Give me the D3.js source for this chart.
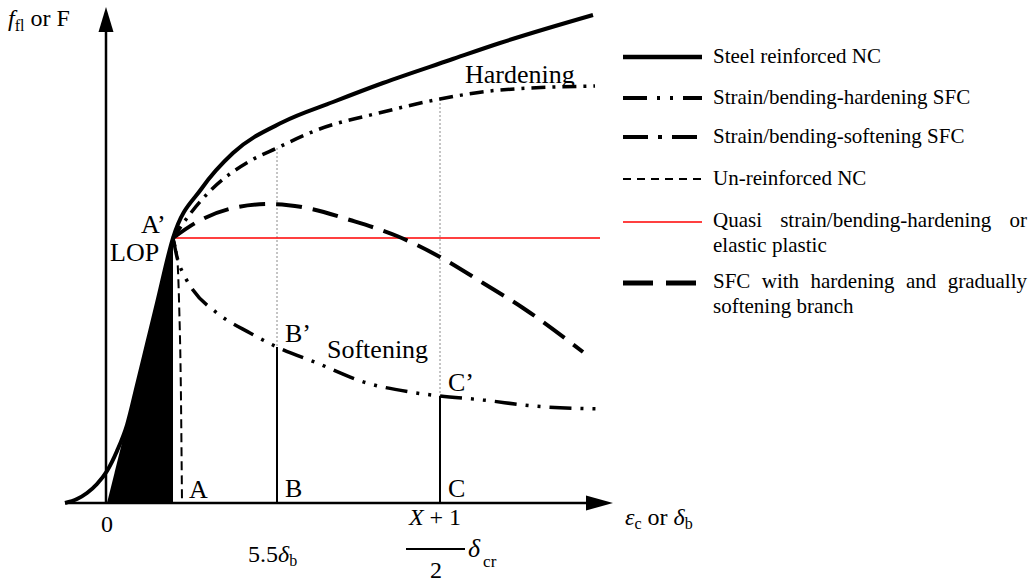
<!DOCTYPE html>
<html>
<head>
<meta charset="utf-8">
<script src="https://cdn.jsdelivr.net/npm/d3@7"></script>
<style>
  body { margin: 0; background: #fff; }
  svg { display: block; }
  svg text { font-family: "Liberation Serif", "Times New Roman", Times, serif; fill: #000; }
</style>
</head>
<body>
<svg id="chart" width="1030" height="582"></svg>
<script>
// curve points (x: strain / deflection units, y: load units)
var steelNC = [[-8.4,0],[-6,0.8],[-4,2],[-2,3.8],[0,6.4],[2,10.4],[4,15.6],[6,23.6],[8,31.8],[10,40],[13.2,53],
  [19,63],[25.2,70],[35.2,76.2],[45.2,80.2],[55.2,84],[68.6,88.6],[78.6,92],[97.2,97.6]]
var hardeningSFC = [[13.2,53],[16.6,57.8],[20.6,62.4],[28.6,68.4],[34,71],[42,74.6],[55.2,78.2],[66.6,80.8],[78.6,82.6],[97.6,83.4]]
var softeningSFC = [[13.2,53],[14,49.2],[15.6,45.2],[17.2,42.6],[22,38],[28.6,34],[34,31.2],[42,28],[52,24],[60.6,22.2],
  [66.6,21.4],[75.2,20.6],[85.2,19.4],[99.2,18.8]]
var gradualSFC = [[13.2,53],[18,56.2],[25.2,59],[32.6,59.8],[40,59],[48.6,56.6],[58,53.4],[66.6,49.2],[75.2,44],[83.2,39],[95.2,30.2]]
var plainNC = [[13.2,53],[14,49.6],[14.4,40.6],[14.8,20.6],[15,0]]
var elasticPart = [[0,0],[13.2,53],[13.2,0]]
var lop = [13.2, 53]
var quasiEnd = 98.6
var markerX = [34, 66.6]
var markerNames = ["B", "C"]
var axisX = [-8.4, 101.2]
var axisY = [0, 99.2]

var legendNames = [
  ["Steel reinforced NC"],
  ["Strain/bending-hardening SFC"],
  ["Strain/bending-softening SFC"],
  ["Un-reinforced NC"],
  ["Quasi strain/bending-hardening or", "elastic plastic"],
  ["SFC with hardening and gradually", "softening branch"]
]

var serif = "'Liberation Serif', 'Times New Roman', Times, serif"
var svg = d3.select("#chart")
var x = d3.scaleLinear().domain([0, 100]).range([107, 607])
var y = d3.scaleLinear().domain([0, 100]).range([503, 3])

var line = d3.line().x(function(d){ return x(d[0]) }).y(function(d){ return y(d[1]) }).curve(d3.curveMonotoneX)

// elastic (black) triangle
svg.append("path")
  .attr("d", d3.line().x(function(d){ return x(d[0]) }).y(function(d){ return y(d[1]) })(elasticPart) + "Z")
  .attr("fill", "#000")

// gray guide lines between the SFC curves
function valueAt(series, xv){
  var p = series.find(function(d){ return d[0] == xv })
  return p[1]
}
markerX.forEach(function(mx){
  svg.append("line")
    .attr("x1", x(mx)).attr("x2", x(mx))
    .attr("y1", y(valueAt(hardeningSFC, mx))).attr("y2", y(valueAt(softeningSFC, mx)))
    .attr("stroke", "#8a8a8a").attr("stroke-width", 1).attr("stroke-dasharray", "2,2")
  svg.append("line")
    .attr("x1", x(mx)).attr("x2", x(mx))
    .attr("y1", y(valueAt(softeningSFC, mx))).attr("y2", y(0))
    .attr("stroke", "#000").attr("stroke-width", 2)
})

// quasi hardening / elastic plastic
svg.append("line")
  .attr("x1", x(lop[0])).attr("x2", x(quasiEnd))
  .attr("y1", y(lop[1])).attr("y2", y(lop[1]))
  .attr("stroke", "#f00").attr("stroke-width", 1.5)

var curves = [
  {data: steelNC, w: 4, dash: null},
  {data: hardeningSFC, w: 3.5, dash: "14,7,3,7"},
  {data: softeningSFC, w: 3.5, dash: "22,9,3,9,3,9"},
  {data: plainNC, w: 2, dash: "9,5"},
  {data: gradualSFC, w: 4, dash: "26,11"}
]
curves.forEach(function(c){
  svg.append("path")
    .attr("d", line(c.data))
    .attr("fill", "none")
    .attr("stroke", "#000")
    .attr("stroke-width", c.w)
    .attr("stroke-dasharray", c.dash)
})

// axes with arrow heads
svg.append("line")
  .attr("x1", x(axisX[0])).attr("x2", x(axisX[1]) - 10)
  .attr("y1", y(0)).attr("y2", y(0))
  .attr("stroke", "#000").attr("stroke-width", 2.5)
svg.append("path")
  .attr("d", "M" + x(axisX[1]) + "," + y(0) + "L" + (x(axisX[1]) - 27) + "," + (y(0) - 7.5) + "L" + (x(axisX[1]) - 27) + "," + (y(0) + 7.5) + "Z")
  .attr("fill", "#000")
svg.append("line")
  .attr("x1", x(-0.2)).attr("x2", x(-0.2))
  .attr("y1", y(axisY[0])).attr("y2", y(axisY[1]) + 10)
  .attr("stroke", "#000").attr("stroke-width", 2.5)
svg.append("path")
  .attr("d", "M" + x(-0.2) + "," + y(axisY[1]) + "L" + (x(-0.2) - 7.5) + "," + (y(axisY[1]) + 25) + "L" + (x(-0.2) + 7.5) + "," + (y(axisY[1]) + 25) + "Z")
  .attr("fill", "#000")

// plot labels
function label(txt, px, py, size, anchor){
  return svg.append("text").attr("x", px).attr("y", py)
    .style("font-family", serif)
    .style("font-size", size + "px").attr("text-anchor", anchor || "start").text(txt)
}
label("0", x(0), y(0) + 29, 24, "middle")
label("A", x(plainNC[plainNC.length - 1][0]) + 7, y(0) - 5, 26)
markerX.forEach(function(mx, i){
  label(markerNames[i], x(mx) + 8, y(0) - 6, 26)
  label(markerNames[i] + "\u2019", x(mx) + 8, y(valueAt(softeningSFC, mx)) - 5, 26)
})
label("Softening", 327, 358, 26)
label("Hardening", 465, 83, 26)
label("A\u2019", x(lop[0]) - 32, y(lop[1]) - 5, 26)
label("LOP", x(lop[0]) - 63, y(lop[1]) + 23, 26)

// y axis title
var yt = label("", 8, 26, 24)
yt.append("tspan").style("font-style", "italic").text("f")
yt.append("tspan").attr("dy", 5).style("font-size", "16px").text("fl")
yt.append("tspan").attr("dy", -5).text(" or F")

// x axis title
var xt = label("", 625, 525, 24)
xt.append("tspan").style("font-style", "italic").text("\u03b5")
xt.append("tspan").attr("dy", 4).style("font-size", "16px").text("c")
xt.append("tspan").attr("dy", -4).text(" or ")
xt.append("tspan").style("font-style", "italic").text("\u03b4")
xt.append("tspan").attr("dy", 4).style("font-size", "16px").text("b")

// tick labels under B and C
var bt = label("", x(markerX[0]) - 29, 562, 24)
bt.append("tspan").text("5.5")
bt.append("tspan").style("font-style", "italic").text("\u03b4")
bt.append("tspan").attr("dy", 4).style("font-size", "16px").text("b")

var fx = x(markerX[1]) - 5
var num = label("", fx, 525, 24, "middle")
num.append("tspan").style("font-style", "italic").text("X")
num.append("tspan").text(" + 1")
svg.append("line").attr("x1", fx - 29).attr("x2", fx + 30).attr("y1", 549).attr("y2", 549)
  .attr("stroke", "#000").attr("stroke-width", 2)
label("2", fx + 1, 578, 24, "middle")
var dc = label("", fx + 33, 557, 26)
dc.append("tspan").style("font-style", "italic").text("\u03b4")
dc.append("tspan").attr("dx", 3).attr("dy", 10).style("font-size", "17px").text("cr")

// legend
var legendLeft = 623, legendLen = 79, legendText = 713, legendRight = 1027
var legendRows = [57, 98, 137, 179, 222, 283]
var legendStyles = [
  {w: 4.5, dash: null, color: "#000"},
  {w: 4, dash: "24,10,3,10,3,10", color: "#000"},
  {w: 4, dash: "25,10,4,10", color: "#000"},
  {w: 2, dash: "8,6", color: "#000"},
  {w: 1.5, dash: null, color: "#f00"},
  {w: 5, dash: "30,13", color: "#000"}
]
var legend = svg.append("g")

function legendLabel(t, px, py){
  return legend.append("text").attr("x", px).attr("y", py)
    .style("font-family", serif).style("font-size", "21px").text(t)
}

// first line of a two-line entry is justified to the right edge
function justifyLine(words, x0, x1, yb){
  var nodes = words.map(function(w){ return legendLabel(w, x0, yb) })
  var widths = nodes.map(function(n){ return n.node().getComputedTextLength() })
  var gap = (x1 - x0 - d3.sum(widths)) / (words.length - 1)
  var cx = x0
  nodes.forEach(function(n, i){ n.attr("x", cx); cx += widths[i] + gap })
}

legendNames.forEach(function(lines, i){
  var ly = legendRows[i]
  var s = legendStyles[i]
  legend.append("line")
    .attr("x1", legendLeft).attr("x2", legendLeft + legendLen)
    .attr("y1", ly).attr("y2", ly)
    .attr("stroke", s.color).attr("stroke-width", s.w)
    .attr("stroke-dasharray", s.dash)
  var base = ly + (lines.length > 1 ? 5 : 6)
  lines.forEach(function(t, j){
    if (lines.length > 1 && j == 0) {
      justifyLine(t.split(" "), legendText, legendRight, base)
    } else {
      legendLabel(t, legendText, base + j * 24.5)
    }
  })
})
</script>
</body>
</html>
